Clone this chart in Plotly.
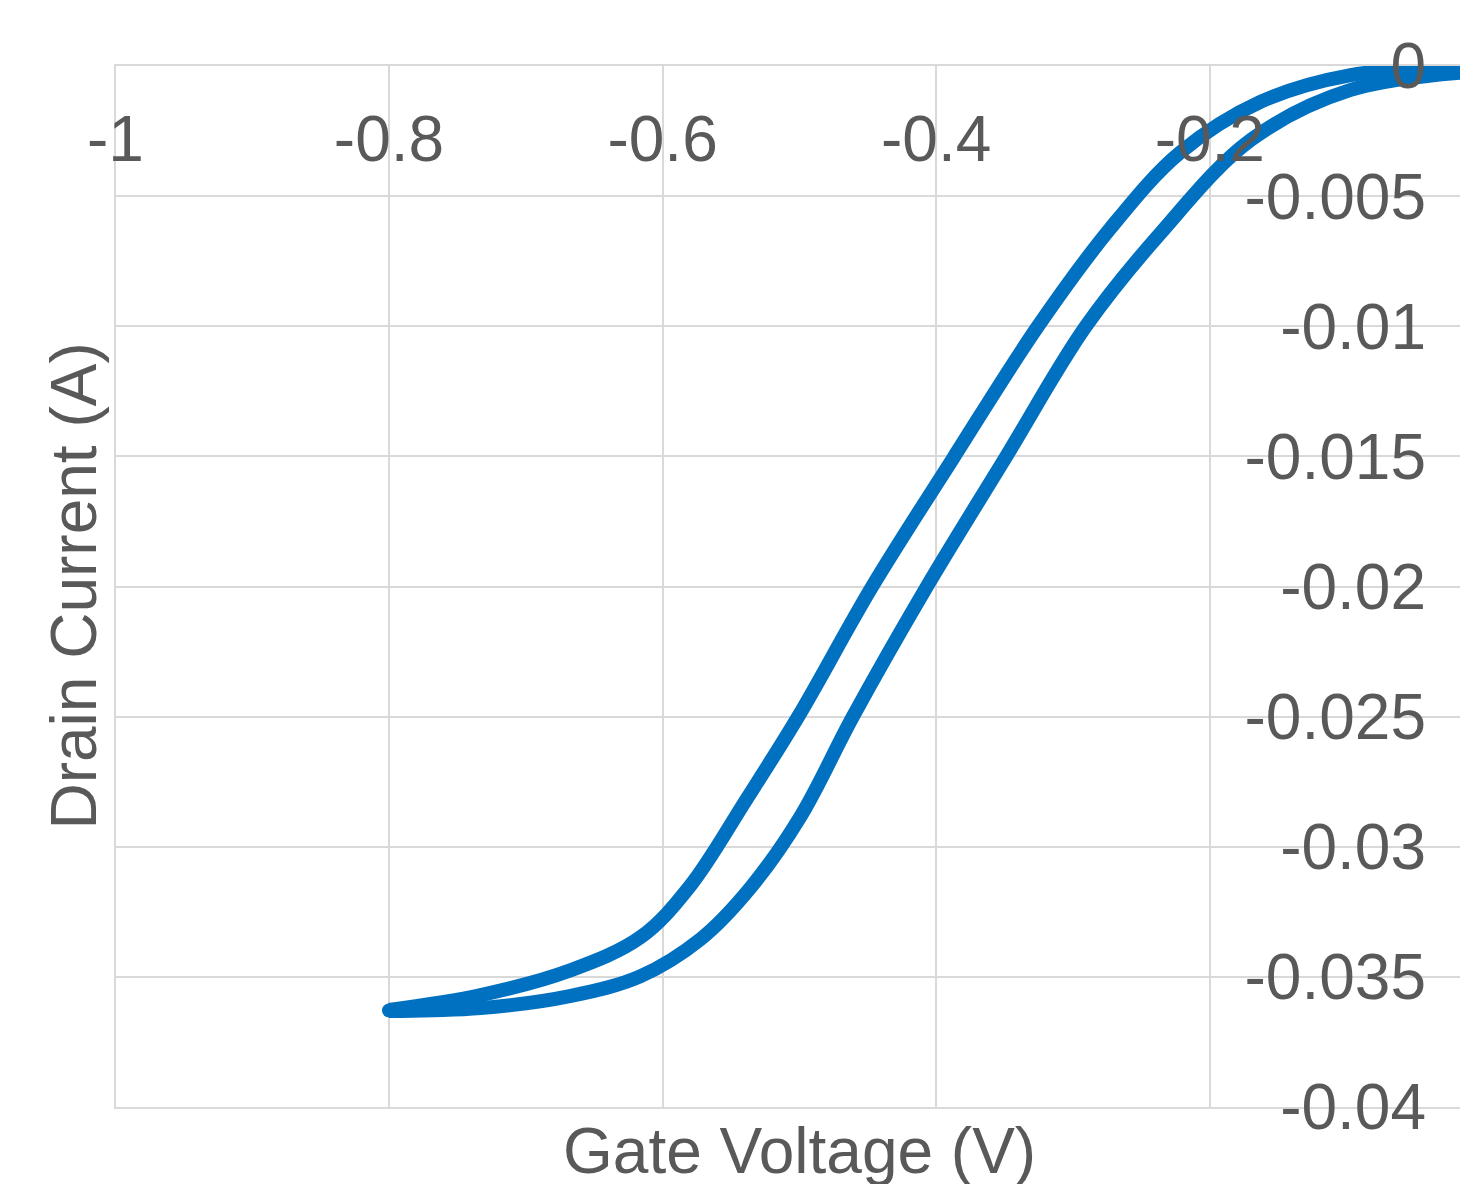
import plotly.graph_objects as go

# Branch 1 (upper / left branch of the hysteresis loop)
upper_v = [-0.800, -0.733, -0.667, -0.616, -0.580, -0.539, -0.501, -0.447, -0.387,
           -0.326, -0.273, -0.222, -0.163, -0.097, 0.0]
upper_i = [-0.03627, -0.03570, -0.03474, -0.03347, -0.03151, -0.02820, -0.02501, -0.02002,
           -0.01502, -0.01003, -0.00626, -0.00334, -0.00138, -0.00035, 0.0]

# Branch 2 (lower / right branch of the hysteresis loop)
lower_v = [-0.800, -0.733, -0.667, -0.616, -0.572, -0.536, -0.499, -0.461, -0.407,
           -0.349, -0.291, -0.236, -0.170, -0.097, 0.0]
lower_i = [-0.03631, -0.03620, -0.03573, -0.03497, -0.03354, -0.03159, -0.02882, -0.02501,
           -0.02002, -0.01502, -0.01003, -0.00642, -0.00284, -0.00092, -0.00019]

x_tick_vals = [-1.0, -0.8, -0.6, -0.4, -0.2, 0.0]
x_tick_text = ["-1", "-0.8", "-0.6", "-0.4", "-0.2", "0"]
y_tick_vals = [0.0, -0.005, -0.01, -0.015, -0.02, -0.025, -0.03, -0.035, -0.04]
y_tick_text = ["0", "-0.005", "-0.01", "-0.015", "-0.02", "-0.025", "-0.03", "-0.035", "-0.04"]

x_title = "Gate Voltage (V)"
y_title = "Drain Current (A)"

BLUE = "#0070C0"
GRID = "#D9D9D9"
TXT = "#595959"
FONT = "Liberation Sans, Arial, sans-serif"
FS = 64
LW = 14

fig = go.Figure()
fig.add_trace(go.Scatter(x=lower_v, y=lower_i, mode="lines",
                         line=dict(color=BLUE, width=LW, shape="spline", smoothing=1.0),
                         hoverinfo="skip"))
fig.add_trace(go.Scatter(x=upper_v, y=upper_i, mode="lines",
                         line=dict(color=BLUE, width=LW, shape="spline", smoothing=1.0),
                         hoverinfo="skip"))
# rounded turning point of the sweep
fig.add_trace(go.Scatter(x=[upper_v[0]], y=[(upper_i[0] + lower_i[0]) / 2], mode="markers",
                         marker=dict(color=BLUE, size=LW, line=dict(width=0)),
                         hoverinfo="skip"))

# page body has an 8px margin, so the figure is shrunk by that amount
W, H = 1460, 1176
L, R, T, B = 106, 0, 58, 77
plot_w = W - L - R
PX_PER_UNIT = 1368.0
x_left = -1 - 1.4 / PX_PER_UNIT
x_right = x_left + plot_w / PX_PER_UNIT

fig.update_layout(
    width=W, height=H,
    margin=dict(l=L, r=R, t=T, b=B, pad=0),
    paper_bgcolor="white", plot_bgcolor="white",
    showlegend=False,
    font=dict(family=FONT, size=FS, color=TXT),
    xaxis=dict(
        range=[x_left, x_right], side="top",
        tickvals=x_tick_vals, ticktext=x_tick_text,
        ticklabelposition="inside", ticklabeloverflow="allow",
        ticklabelstandoff=60,
        ticks="", showgrid=True, gridcolor=GRID, gridwidth=2,
        zeroline=False, showline=True, linecolor=GRID, linewidth=2, mirror=True,
        tickfont=dict(family=FONT, size=FS, color=TXT),
    ),
    yaxis=dict(
        range=[-0.04, 0], side="right",
        tickvals=y_tick_vals, ticktext=y_tick_text,
        ticklabelposition="inside", ticklabeloverflow="allow",
        ticklabelstandoff=39,
        ticks="", showgrid=True, gridcolor=GRID, gridwidth=2,
        zeroline=False, showline=False,
        tickfont=dict(family=FONT, size=FS, color=TXT),
    ),
    annotations=[
        dict(text=x_title, xref="x", x=-0.5, yref="paper", y=0,
             xanchor="center", yanchor="top", yshift=-6, showarrow=False,
             font=dict(family=FONT, size=FS, color=TXT)),
        dict(text=y_title, xref="paper", x=(65 - L) / plot_w, yref="paper", y=0.5,
             xanchor="center", yanchor="middle", textangle=-90, showarrow=False,
             font=dict(family=FONT, size=FS, color=TXT)),
    ],
)

fig.write_html("out.html")
